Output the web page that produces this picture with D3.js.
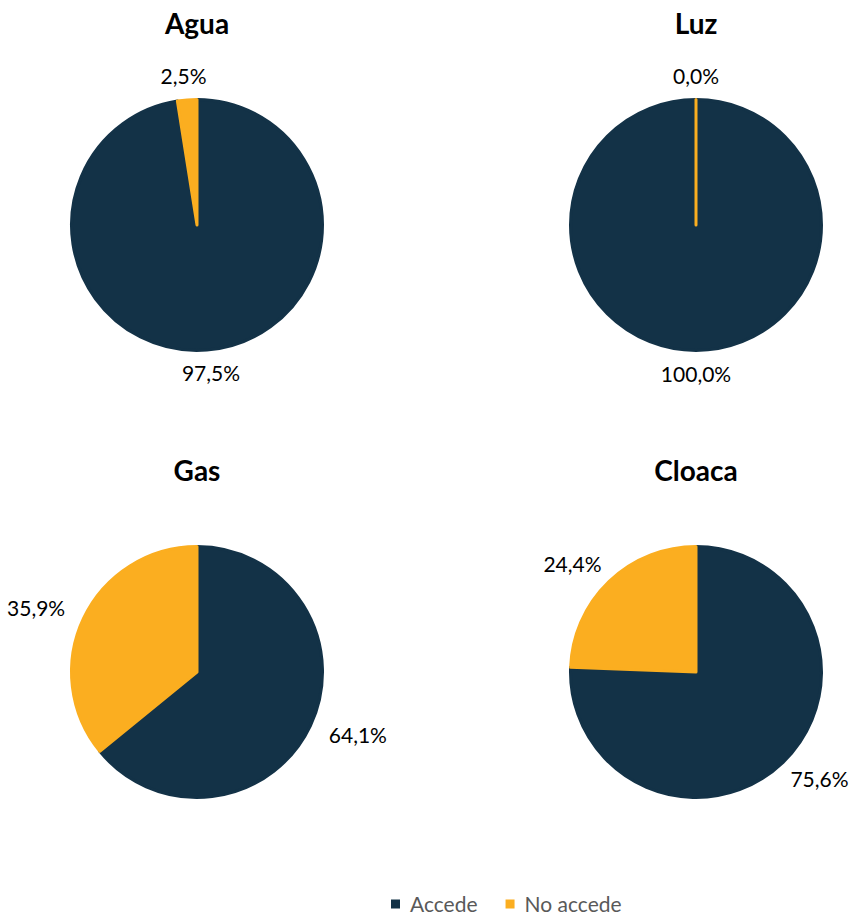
<!DOCTYPE html>
<html>
<head>
<meta charset="utf-8">
<script src="https://cdn.jsdelivr.net/npm/d3@7"></script>
<style>
  html, body { margin: 0; padding: 0; background: #fff; }
  svg { display: block; font-family: Lato, "Open Sans", sans-serif; }
</style>
</head>
<body>
<div id="chart"></div>
<script>
// data
const services = ['Agua', 'Luz', 'Gas', 'Cloaca'];
const categories = ['Accede', 'No accede'];
const accede = [97.5, 100.0, 64.1, 75.6];
const noAccede = [2.5, 0.0, 35.9, 24.4];

const width = 857, height = 914;
const colors = ['#133247', '#FBAE20'];
const radius = 125.5;
const label_dist = 149;
const label_font = 21;
const title_font = 28;

// pie panels: column centres / row centres
const col_x = [197, 696];
const row_y = [225, 672];
const title_off = -191; // title baseline relative to pie centre

const fmt = v => v.toFixed(1).replace('.', ',') + '%';

const svg = d3.select('#chart').append('svg')
  .attr('width', width)
  .attr('height', height);

const pie = d3.pie().sort(null).value(d => d.value);
const arc = d3.arc().innerRadius(0).outerRadius(radius);

services.forEach((name, i) => {
  const cx = col_x[i % 2];
  const cy = row_y[Math.floor(i / 2)];
  const rows = categories.map((c, k) => ({cat: c, value: k === 0 ? accede[i] : noAccede[i], k}));

  const g = svg.append('g').attr('transform', `translate(${cx},${cy})`);

  g.append('text')
    .attr('x', 0)
    .attr('y', title_off)
    .attr('text-anchor', 'middle')
    .style('font-size', title_font + 'px')
    .style('font-weight', 700)
    .attr('fill', '#000')
    .text(name);

  const slices = pie(rows);

  g.selectAll('path.slice')
    .data(slices)
    .join('path')
    .attr('class', 'slice')
    .attr('d', arc)
    .attr('fill', d => colors[d.data.k])
    .attr('stroke', d => colors[d.data.k])
    .attr('stroke-width', 3)
    .attr('stroke-linejoin', 'round');

  const labels = g.selectAll('text.lbl')
    .data(slices)
    .join('text')
    .attr('class', 'lbl')
    .attr('text-anchor', 'middle')
    .style('font-size', label_font + 'px')
    .attr('fill', '#000')
    .text(d => fmt(d.data.value));

  // Excel-like outside labels: push the box out along the mid angle
  labels.each(function(d) {
    const w = this.getComputedTextLength();
    let a = (d.startAngle + d.endAngle) / 2;
    if (d.data.value === 0) a = d.startAngle;
    const s = Math.sin(a), c = Math.cos(a);
    const x = s * (label_dist + w / 2);
    const y = -c * label_dist;
    d3.select(this)
      .attr('x', x)
      .attr('y', y + label_font * 0.36);
  });
});

// legend
const legend_x = 391, legend_y = 904;
const legend = svg.append('g').attr('transform', `translate(${legend_x},${legend_y})`);
let lx = 0;
categories.forEach((c, k) => {
  legend.append('rect')
    .attr('x', lx)
    .attr('y', -4.5)
    .attr('width', 9)
    .attr('height', 9)
    .attr('fill', colors[k]);
  const t = legend.append('text')
    .attr('x', lx + 19)
    .attr('y', 7.5)
    .style('font-size', '21px')
    .attr('fill', '#595959')
    .text(c);
  lx += 19 + t.node().getComputedTextLength() + 28;
});
</script>
</body>
</html>
